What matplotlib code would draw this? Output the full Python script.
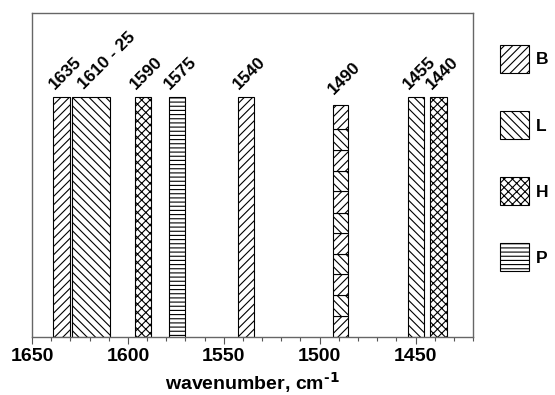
import numpy as np
import matplotlib
matplotlib.use("Agg")
import matplotlib.pyplot as plt
from matplotlib.patches import Patch

plt.rcParams["font.family"] = ["Liberation Sans", "DejaVu Sans"]
plt.rcParams["font.weight"] = "bold"
plt.rcParams["mathtext.default"] = "bf"
plt.rcParams["hatch.linewidth"] = 0.8

# Band assignments (wavenumber, cm-1)
peak_labels = ["1635", "1610 - 25", "1590", "1575", "1540", "1490", "1455", "1440"]
peak_centers = [1634.5, 1619.2, 1592.1, 1574.4, 1538.5, 1489.2, 1449.6, 1438.1]
peak_widths = [8.7, 19.4, 8.6, 8.5, 8.3, 8.1, 8.5, 8.7]
peak_heights = [0.74, 0.74, 0.74, 0.74, 0.74, 0.724, 0.74, 0.74]
peak_groups = ["B", "L", "H", "P", "B", "B/L", "L", "H"]

# the 1490 band is shared between B and L (segments from bottom to top)
mixed_groups = ["B", "L", "B", "L", "B", "L", "B", "L", "B", "L", "B"]
mixed_heights = [0.065, 0.065, 0.063, 0.064, 0.064, 0.063, 0.065, 0.063,
                 0.064, 0.065, 0.076]

legend_groups = ["B", "L", "H", "P"]
hatches = {"B": "////", "L": "\\\\\\\\", "H": "xxxx", "P": "----"}

fig = plt.figure(figsize=(5.55, 3.95), dpi=100)
ax = fig.add_axes([0.0577, 0.1476, 0.7946, 0.8187])

for lab, c, w, h, g in zip(peak_labels, peak_centers, peak_widths,
                           peak_heights, peak_groups):
    if g == "B/L":
        bottom = 0.0
        for sg, sh in zip(mixed_groups, mixed_heights):
            ax.bar(c, sh, width=w, bottom=bottom, color="white",
                   edgecolor="black", linewidth=0.8, hatch=hatches[sg])
            bottom += sh
    else:
        ax.bar(c, h, width=w, color="white", edgecolor="black",
               linewidth=0.8, hatch=hatches[g])
    ax.annotate(lab, xy=(c, h), xytext=(-5, 5.5), textcoords="offset points",
                rotation=45, rotation_mode="anchor", ha="left",
                va="baseline", fontsize=12.5, fontweight="bold")

ax.set_xlim(1650, 1420)
ax.set_ylim(0, 1)
ax.set_xticks([1650, 1600, 1550, 1500, 1450])
ax.set_xticks(np.arange(1420, 1651, 10), minor=True)
ax.set_yticks([])
ax.tick_params(axis="x", which="major", length=5, width=0.8, pad=3,
               labelsize=14, color="#555555")
ax.tick_params(axis="x", which="minor", length=3, width=0.8, color="#555555")
for lbl in ax.get_xticklabels():
    lbl.set_fontweight("bold")
for sp in ax.spines.values():
    sp.set_color("#666666")
    sp.set_linewidth(1.0)

ax.set_xlabel("wavenumber, cm$^{\\text{-1}}$", fontsize=14,
              fontweight="bold", labelpad=4)

handles = [Patch(facecolor="white", edgecolor="black", linewidth=0.8,
                 hatch=hatches[g], label=g) for g in legend_groups]
fig.legend(handles=handles, loc="upper left",
           bbox_to_anchor=(500 / 555, 1 - 45 / 395), frameon=False,
           borderpad=0, borderaxespad=0, handlelength=1.65,
           handleheight=2.1, labelspacing=2.2, handletextpad=0.4,
           prop={"size": 12.5, "weight": "bold"})

fig.savefig("out.png", dpi=100)
